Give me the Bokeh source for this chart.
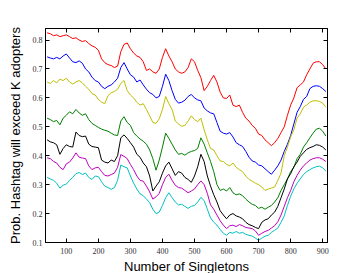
from bokeh.plotting import figure
from bokeh.models import LinearAxis, FixedTicker, Range1d, Title
from bokeh.embed import file_html
from bokeh.resources import INLINE

singletons = list(range(40, 911, 10))

red = [0.825, 0.822, 0.815, 0.818, 0.812, 0.815,
       0.818, 0.812, 0.805, 0.808, 0.800, 0.795, 0.798, 0.788, 0.780, 0.775,
       0.765, 0.735, 0.722, 0.715, 0.712, 0.705, 0.710, 0.760, 0.785, 0.790,
       0.770, 0.755, 0.745, 0.740, 0.725, 0.695, 0.700, 0.690, 0.685, 0.700,
       0.740, 0.770, 0.745, 0.725, 0.700, 0.690, 0.685, 0.690, 0.705, 0.735,
       0.725, 0.695, 0.670, 0.625, 0.640, 0.660, 0.678, 0.655, 0.620, 0.600,
       0.598, 0.610, 0.575, 0.570, 0.575, 0.550, 0.530, 0.520, 0.505, 0.495,
       0.475, 0.470, 0.455, 0.445, 0.435, 0.445, 0.460, 0.480, 0.500, 0.540,
       0.575, 0.600, 0.635, 0.645, 0.655, 0.680, 0.700, 0.720, 0.725, 0.725,
       0.715, 0.700]

blue = [0.742, 0.738, 0.735, 0.740, 0.735, 0.745,
        0.752, 0.738, 0.725, 0.722, 0.728, 0.720, 0.700, 0.690, 0.672, 0.660,
        0.655, 0.640, 0.632, 0.640, 0.645, 0.655, 0.668, 0.705, 0.722, 0.700,
        0.680, 0.672, 0.655, 0.662, 0.645, 0.630, 0.618, 0.612, 0.600, 0.605,
        0.640, 0.682, 0.660, 0.625, 0.595, 0.582, 0.585, 0.592, 0.605, 0.612,
        0.600, 0.593, 0.590, 0.565, 0.555, 0.548, 0.545, 0.515, 0.485, 0.478,
        0.475, 0.480, 0.465, 0.445, 0.438, 0.432, 0.415, 0.395, 0.382, 0.378,
        0.368, 0.365, 0.355, 0.345, 0.336, 0.350, 0.365, 0.385, 0.415, 0.440,
        0.470, 0.510, 0.550, 0.570, 0.595, 0.605, 0.632, 0.640, 0.642, 0.640,
        0.632, 0.622]

yellow = [0.655, 0.650, 0.660, 0.652, 0.665, 0.660,
          0.668, 0.655, 0.648, 0.655, 0.660, 0.652, 0.640, 0.630, 0.615, 0.610,
          0.595, 0.585, 0.580, 0.608, 0.618, 0.622, 0.630, 0.650, 0.660, 0.625,
          0.610, 0.600, 0.585, 0.575, 0.580, 0.560, 0.538, 0.515, 0.512, 0.528,
          0.560, 0.605, 0.580, 0.560, 0.520, 0.510, 0.502, 0.505, 0.520, 0.538,
          0.525, 0.518, 0.530, 0.490, 0.455, 0.425, 0.420, 0.400, 0.382, 0.380,
          0.370, 0.365, 0.375, 0.360, 0.352, 0.345, 0.330, 0.318, 0.312, 0.305,
          0.300, 0.292, 0.280, 0.285, 0.288, 0.292, 0.315, 0.340, 0.400, 0.430,
          0.465, 0.490, 0.530, 0.545, 0.568, 0.575, 0.585, 0.590, 0.590, 0.588,
          0.582, 0.568]

green = [0.530, 0.525, 0.518, 0.522, 0.507, 0.530,
         0.540, 0.552, 0.545, 0.560, 0.548, 0.540, 0.545, 0.525, 0.512, 0.505,
         0.498, 0.492, 0.488, 0.485, 0.478, 0.472, 0.470, 0.520, 0.535, 0.515,
         0.505, 0.480, 0.468, 0.458, 0.450, 0.440, 0.420, 0.390, 0.350, 0.385,
         0.430, 0.478, 0.460, 0.440, 0.420, 0.405, 0.408, 0.402, 0.410, 0.415,
         0.418, 0.425, 0.462, 0.440, 0.410, 0.380, 0.345, 0.300, 0.280, 0.285,
         0.278, 0.290, 0.272, 0.265, 0.268, 0.262, 0.250, 0.240, 0.232, 0.228,
         0.218, 0.222, 0.215, 0.222, 0.228, 0.240, 0.255, 0.280, 0.300, 0.320,
         0.345, 0.360, 0.390, 0.405, 0.430, 0.445, 0.462, 0.478, 0.492, 0.495,
         0.485, 0.468]

black = [0.455, 0.448, 0.445, 0.438, 0.405, 0.425,
         0.438, 0.432, 0.430, 0.482, 0.470, 0.466, 0.468, 0.440, 0.432, 0.430,
         0.428, 0.385, 0.378, 0.375, 0.385, 0.380, 0.400, 0.462, 0.472, 0.460,
         0.445, 0.430, 0.405, 0.395, 0.375, 0.362, 0.330, 0.278, 0.295, 0.310,
         0.340, 0.365, 0.378, 0.355, 0.332, 0.345, 0.340, 0.325, 0.318, 0.308,
         0.330, 0.362, 0.405, 0.380, 0.330, 0.295, 0.265, 0.240, 0.210, 0.195,
         0.182, 0.195, 0.200, 0.192, 0.188, 0.182, 0.170, 0.162, 0.158, 0.152,
         0.148, 0.170, 0.178, 0.182, 0.195, 0.205, 0.225, 0.255, 0.285, 0.320,
         0.338, 0.362, 0.378, 0.398, 0.410, 0.422, 0.428, 0.432, 0.438, 0.436,
         0.430, 0.420]

magenta = [0.393, 0.390, 0.380, 0.375, 0.360, 0.352,
           0.372, 0.378, 0.392, 0.410, 0.395, 0.392, 0.390, 0.365, 0.352, 0.358,
           0.360, 0.345, 0.332, 0.330, 0.335, 0.340, 0.360, 0.404, 0.398, 0.390,
           0.370, 0.352, 0.330, 0.315, 0.312, 0.295, 0.275, 0.250, 0.258, 0.270,
           0.300, 0.325, 0.336, 0.315, 0.298, 0.290, 0.288, 0.280, 0.272, 0.278,
           0.285, 0.300, 0.313, 0.300, 0.270, 0.230, 0.215, 0.195, 0.175, 0.160,
           0.148, 0.158, 0.160, 0.155, 0.162, 0.158, 0.152, 0.150, 0.148, 0.140,
           0.125, 0.132, 0.138, 0.142, 0.150, 0.158, 0.172, 0.195, 0.225, 0.255,
           0.280, 0.310, 0.332, 0.350, 0.365, 0.375, 0.385, 0.390, 0.393, 0.393,
           0.388, 0.380]

cyan = [0.325, 0.320, 0.315, 0.305, 0.288, 0.298,
        0.302, 0.315, 0.325, 0.338, 0.342, 0.335, 0.340, 0.325, 0.318, 0.330,
        0.328, 0.310, 0.295, 0.290, 0.284, 0.290, 0.315, 0.368, 0.362, 0.358,
        0.330, 0.305, 0.285, 0.268, 0.262, 0.250, 0.238, 0.215, 0.200, 0.205,
        0.228, 0.255, 0.272, 0.255, 0.240, 0.230, 0.232, 0.225, 0.218, 0.225,
        0.228, 0.240, 0.256, 0.245, 0.215, 0.185, 0.170, 0.160, 0.145, 0.132,
        0.125, 0.135, 0.132, 0.138, 0.132, 0.135, 0.128, 0.125, 0.122, 0.115,
        0.108, 0.115, 0.122, 0.125, 0.135, 0.142, 0.150, 0.170, 0.192, 0.228,
        0.260, 0.285, 0.305, 0.320, 0.335, 0.345, 0.352, 0.358, 0.362, 0.364,
        0.358, 0.347]

x_ticks = [100, 200, 300, 400, 500, 600, 700, 800, 900]
y_ticks = [0.1, 0.2, 0.3, 0.4, 0.5, 0.6, 0.7, 0.8]
x_title = "Number of Singletons"

series = [(red, "#ff0000"), (blue, "#0000ff"), (yellow, "#bfbf00"),
          (green, "#008000"), (black, "#000000"), (magenta, "#bf00bf"),
          (cyan, "#00bfbf")]

p = figure(width=363, height=273, output_backend="svg", toolbar_location=None,
           x_range=Range1d(35, 915), y_range=Range1d(0.1, 0.84),
           y_axis_label="Prob. Hashtag will exceed K adopters",
           min_border_left=45, min_border_right=36, min_border_top=28,
           min_border_bottom=28)

for vals, col in series:
    p.line(singletons, vals, line_color=col, line_width=1)

p.grid.visible = False
p.outline_line_color = "black"
p.outline_line_width = 1

top = LinearAxis()
right = LinearAxis()
p.add_layout(top, "above")
p.add_layout(right, "right")

for ax in p.xaxis:
    ax.ticker = FixedTicker(ticks=x_ticks)
for ax in p.yaxis:
    ax.ticker = FixedTicker(ticks=y_ticks)

for ax in p.axis:
    ax.major_tick_in = 4
    ax.major_tick_out = 0
    ax.minor_tick_in = 0
    ax.minor_tick_out = 0
    ax.axis_line_color = "black"
    ax.major_tick_line_color = "black"
    ax.major_label_text_font = "Liberation Serif"
    ax.major_label_text_font_size = "8px"
    ax.major_label_text_color = "#333333"
    ax.axis_label_text_font = "Liberation Sans"
    ax.axis_label_text_font_size = "13px"
    ax.axis_label_text_font_style = "normal"
    ax.axis_label_text_color = "black"

for ax in (top, right):
    ax.major_label_text_font_size = "1px"
    ax.major_label_text_color = None
    ax.major_label_standoff = 0

p.xaxis[0].major_label_standoff = 3
p.yaxis[0].major_label_standoff = 3
p.yaxis[0].axis_label_standoff = 7

x_label = Title(text=x_title, align="center", standoff=0,
                text_font="Liberation Sans", text_font_size="13px",
                text_font_style="normal", text_color="black")
p.add_layout(x_label, "below")

open("out.html", "w").write(file_html(p, INLINE))
